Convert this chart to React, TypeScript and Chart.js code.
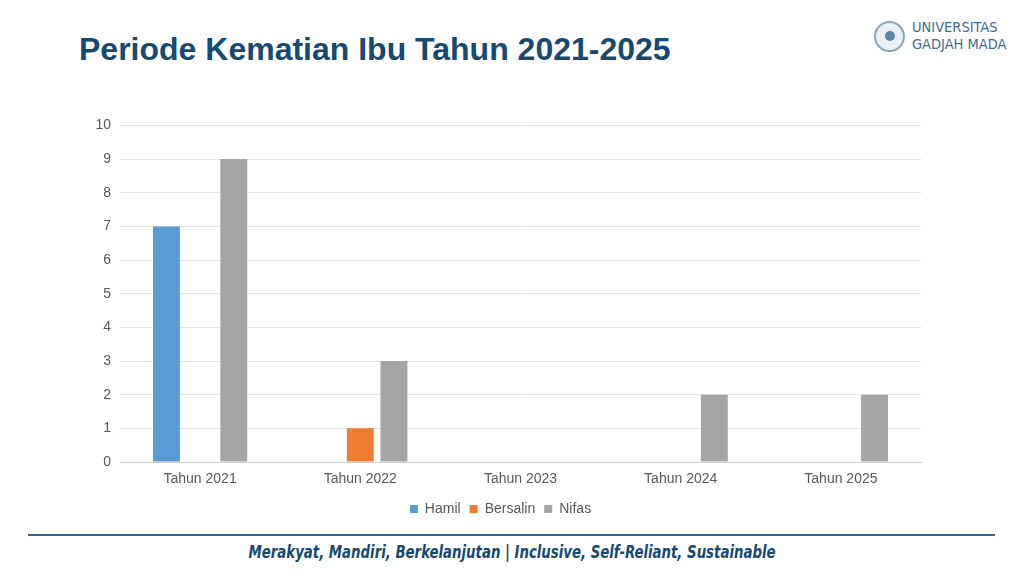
import { useEffect, useRef } from 'react';
import { Chart, registerables } from 'chart.js';

Chart.register(...registerables);

const categories = ['Tahun 2021', 'Tahun 2022', 'Tahun 2023', 'Tahun 2024', 'Tahun 2025'];
const hamil = [7, 0, 0, 0, 0];
const bersalin = [0, 1, 0, 0, 0];
const nifas = [9, 3, 0, 2, 2];
const yTicks = [0, 1, 2, 3, 4, 5, 6, 7, 8, 9, 10];

const navy = '#164a73';
const tickColor = '#595959';
const sans = "'Liberation Sans', Arial, sans-serif";

function Logo() {
    return (
        <div style={{ position: 'absolute', left: 874, top: 19, display: 'flex', alignItems: 'center' }}>
            <div
                style={{
                    width: 31,
                    height: 31,
                    borderRadius: '50%',
                    border: '2px solid #8aa6bc',
                    boxSizing: 'border-box',
                    display: 'flex',
                    alignItems: 'center',
                    justifyContent: 'center',
                    background: '#e9eff4',
                }}
            >
                <div style={{ width: 10, height: 10, borderRadius: '50%', background: '#5d84a3' }} />
            </div>
            <div
                style={{
                    marginLeft: 7,
                    fontFamily: "'DejaVu Sans Condensed', sans-serif",
                    fontSize: 14.5,
                    lineHeight: '17px',
                    color: '#3f6b90',
                }}
            >
                <div>UNIVERSITAS</div>
                <div>GADJAH MADA</div>
            </div>
        </div>
    );
}

export default function App() {
    const chartRef = useRef<HTMLCanvasElement>(null);
    const chartInstance = useRef<Chart | null>(null);

    useEffect(() => {
        if (!chartRef.current) return;
        const ctx = chartRef.current.getContext('2d');
        if (!ctx) return;
        if (chartInstance.current) chartInstance.current.destroy();

        chartInstance.current = new Chart(ctx, {
            type: 'bar',
            data: {
                labels: categories,
                datasets: [
                    { label: 'Hamil', data: hamil, backgroundColor: '#5b9bd5' },
                    { label: 'Bersalin', data: bersalin, backgroundColor: '#ed7d31' },
                    { label: 'Nifas', data: nifas, backgroundColor: '#a5a5a5' },
                ],
            },
            options: {
                responsive: true,
                maintainAspectRatio: false,
                animation: false,
                categoryPercentage: 0.63,
                barPercentage: 0.8,
                layout: { padding: { top: 3, right: 19, left: 0, bottom: 0 } },
                plugins: {
                    legend: {
                        position: 'bottom',
                        labels: {
                            boxWidth: 8,
                            boxHeight: 8,
                            padding: 9,
                            color: tickColor,
                            font: { family: sans, size: 14 },
                        },
                    },
                    tooltip: { enabled: false },
                },
                scales: {
                    x: {
                        grid: { display: false },
                        border: { display: true, color: '#d0d0d0', width: 1 },
                        ticks: {
                            color: tickColor,
                            padding: 1,
                            font: { family: sans, size: 14 },
                        },
                        afterFit: (scale: any) => {
                            scale.height = 31;
                        },
                    },
                    y: {
                        min: 0,
                        max: 10,
                        afterBuildTicks: (scale: any) => {
                            scale.ticks = yTicks.map((v) => ({ value: v }));
                        },
                        grid: { color: '#e2e2e2', lineWidth: 1, drawTicks: false },
                        border: { display: false },
                        ticks: {
                            color: tickColor,
                            padding: 9,
                            font: { family: sans, size: 14 },
                        },
                        afterFit: (scale: any) => {
                            scale.width = 40;
                        },
                    },
                },
            },
        });

        return () => {
            if (chartInstance.current) {
                chartInstance.current.destroy();
                chartInstance.current = null;
            }
        };
    }, []);

    return (
        <div
            style={{
                position: 'absolute',
                left: 0,
                top: 0,
                width: 1024,
                height: 576,
                background: '#ffffff',
                overflow: 'hidden',
                fontFamily: sans,
            }}
        >
            <div
                style={{
                    position: 'absolute',
                    left: 79,
                    top: 31,
                    fontSize: 32,
                    fontWeight: 'bold',
                    color: navy,
                    whiteSpace: 'nowrap',
                }}
            >
                Periode Kematian Ibu Tahun 2021-2025
            </div>
            <Logo />
            <div style={{ position: 'absolute', left: 80, top: 108, width: 860, height: 418 }}>
                <canvas ref={chartRef}></canvas>
            </div>
            <div
                style={{
                    position: 'absolute',
                    left: 28,
                    top: 534,
                    width: 967,
                    height: 2,
                    background: '#3e6584',
                }}
            />
            <div
                style={{
                    position: 'absolute',
                    left: 0,
                    top: 542,
                    width: 1024,
                    textAlign: 'center',
                    fontFamily: "'DejaVu Sans Condensed', sans-serif",
                    fontStyle: 'italic',
                    fontWeight: 'bold',
                    fontSize: 17,
                    color: navy,
                    whiteSpace: 'nowrap',
                    transform: 'scaleX(0.87)',
                    transformOrigin: '512px 0',
                }}
            >
                Merakyat, Mandiri, Berkelanjutan | Inclusive, Self-Reliant, Sustainable
            </div>
        </div>
    );
}
